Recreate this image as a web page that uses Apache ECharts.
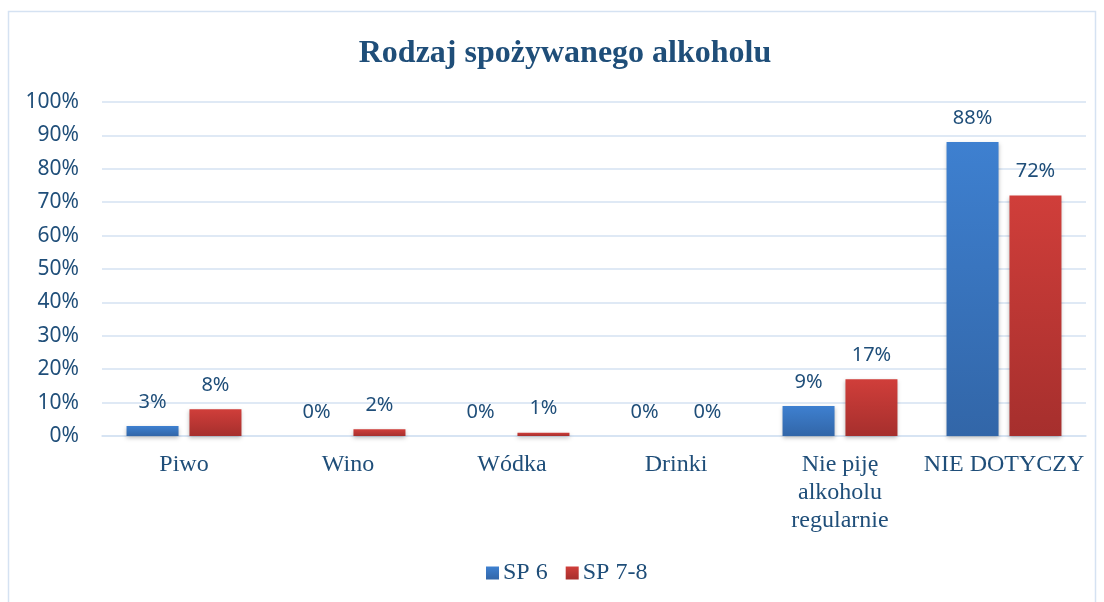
<!DOCTYPE html>
<html>
<head>
<meta charset="utf-8">
<script src="https://cdn.jsdelivr.net/npm/echarts@6/dist/echarts.min.js"></script>
<style>
  html, body { margin: 0; padding: 0; background: #fff; }
  #main { width: 1104px; height: 602px; }
</style>
</head>
<body>
<div id="main"></div>
<script>
var categories = ["Piwo", "Wino", "Wódka", "Drinki", "Nie piję\nalkoholu\nregularnie", "NIE DOTYCZY"];
var sp6 = [3, 0, 0, 0, 9, 88];
var sp78 = [8, 2, 1, 0, 17, 72];
var yTicks = [0, 10, 20, 30, 40, 50, 60, 70, 80, 90, 100];

var textColor = "#1f4e79";

function grad(top, bottom) {
  return new echarts.graphic.LinearGradient(0, 0, 0, 1, [
    { offset: 0, color: top },
    { offset: 1, color: bottom }
  ]);
}

var labelStyle = {
  show: true,
  position: "top",
  distance: 14,
  fontFamily: "Noto Sans",
  fontSize: 20,
  color: textColor,
  formatter: "{c}%"
};

var myChart = echarts.init(document.getElementById("main"));
var option = {
  animation: false,
  title: {
    text: "Rodzaj spożywanego alkoholu",
    left: 560,
    textAlign: "center",
    top: 33,
    textStyle: {
      fontFamily: "Liberation Serif",
      fontWeight: "bold",
      fontSize: 32,
      color: textColor
    }
  },
  graphic: [
    {
      type: "rect",
      shape: { x: 8.5, y: 11.5, width: 1087, height: 620 },
      style: { fill: "none", stroke: "#d5e2f2", lineWidth: 1.5 },
      silent: true
    }
  ],
  legend: {
    bottom: 12,
    left: 481,
    itemWidth: 13,
    itemHeight: 13,
    itemGap: 18,
    icon: "rect",
    textStyle: {
      fontFamily: "Liberation Serif",
      fontSize: 24,
      color: textColor,
      padding: [2, 0, 0, -1]
    },
    data: ["SP 6", "SP 7-8"]
  },
  grid: { left: 102, right: 18, top: 102, bottom: 166 },
  xAxis: {
    type: "category",
    data: categories,
    axisLine: { show: true, lineStyle: { color: "#d5e2f2", width: 1.5 } },
    axisTick: { show: false },
    axisLabel: {
      margin: 15,
      interval: 0,
      fontFamily: "Liberation Serif",
      fontSize: 24,
      lineHeight: 28,
      color: textColor
    }
  },
  yAxis: {
    type: "value",
    min: yTicks[0],
    max: yTicks[yTicks.length - 1],
    interval: 10,
    axisLine: { show: false },
    axisTick: { show: false },
    splitLine: { lineStyle: { color: "#d5e2f2", width: 1.5 } },
    axisLabel: {
      margin: 23,
      fontFamily: "Noto Sans",
      fontSize: 21,
      color: textColor,
      formatter: "{value}%"
    }
  },
  series: [
    {
      name: "SP 6",
      type: "bar",
      data: sp6,
      barWidth: 52,
      barGap: "21%",
      itemStyle: {
        color: grad("#3e80d0", "#3266a8"),
        shadowColor: "rgba(0,0,0,0.25)",
        shadowBlur: 4,
        shadowOffsetY: 2
      },
      label: labelStyle
    },
    {
      name: "SP 7-8",
      type: "bar",
      data: sp78,
      barWidth: 52,
      itemStyle: {
        color: grad("#d03e3a", "#a62f2d"),
        shadowColor: "rgba(0,0,0,0.25)",
        shadowBlur: 4,
        shadowOffsetY: 2
      },
      label: labelStyle
    }
  ]
};
myChart.setOption(option);
</script>
</body>
</html>
